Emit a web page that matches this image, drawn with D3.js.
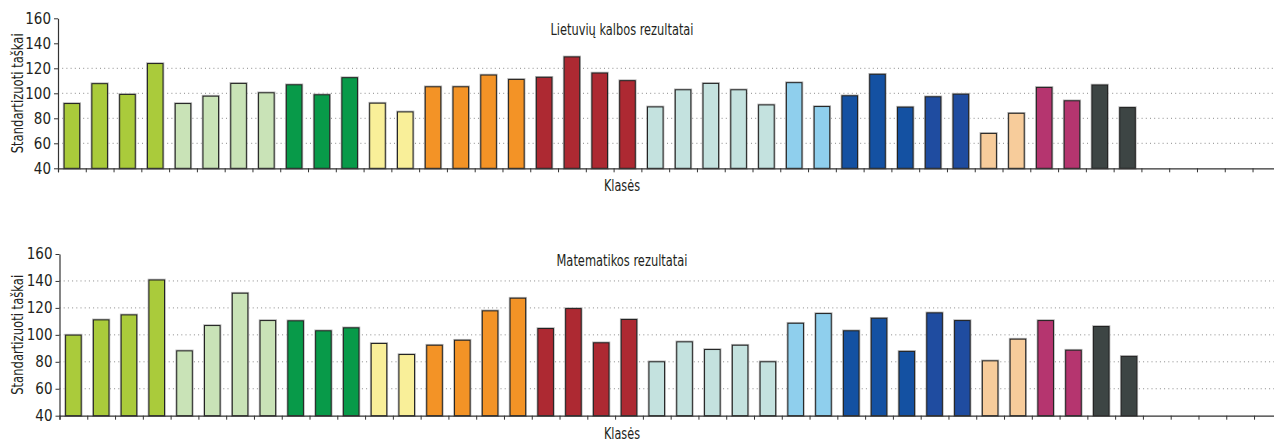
<!DOCTYPE html>
<html>
<head>
<meta charset="utf-8">
<script src="https://cdn.jsdelivr.net/npm/d3@7"></script>
<style>
  body { margin: 0; background: #fff; }
  svg text { font-family: "Liberation Sans Narrow", "DejaVu Sans Condensed", "Roboto", sans-serif; fill: #231f20; }
</style>
</head>
<body>
<div id="chart"></div>
<script>
// klasės (44 vietos ašyje, užpildytos 39)
const classes = d3.range(1, 45).map(String);

// kiekvienos klasės grupė (spalvai)
const groups = [
  "A","A","A","A", "B","B","B","B", "C","C","C", "D","D",
  "E","E","E","E", "F","F","F","F", "G","G","G","G","G",
  "H","H", "I","I","I","J","J", "K","K", "L","L", "M","M"
];

const lithuanian = [
  91.8, 107.7, 99.1, 123.8, 91.8, 97.7, 107.9, 100.4, 106.8, 98.8, 112.5, 92.1, 85.1,
  105.2, 105.2, 114.6, 111.1, 112.8, 129.1, 116.2, 110.1,
  89.1, 102.8, 107.9, 102.8, 90.7, 108.5, 89.4,
  98.0, 115.2, 88.9, 97.2, 99.3, 67.9, 84.0, 104.7, 94.0, 106.6, 88.6
];

const maths = [
  99.8, 111.1, 114.8, 140.7, 88.1, 106.9, 130.9, 110.6, 110.4, 103.0, 105.2, 93.6, 85.4,
  92.3, 96.0, 117.8, 127.2, 104.7, 119.5, 94.1, 111.4,
  80.0, 94.8, 89.1, 92.3, 80.0, 108.6, 115.8,
  103.0, 112.3, 87.7, 116.3, 110.6, 80.7, 96.8, 110.6, 88.6, 106.2, 84.0
];

const yTicks = [40, 60, 80, 100, 120, 140, 160];
const gridTop = [60, 80, 100, 120];
const gridBottom = [60, 80, 100, 120, 140];

const colour = d3.scaleOrdinal()
  .domain(["A","B","C","D","E","F","G","H","I","J","K","L","M"])
  .range(["#aacb3b","#c9e3b7","#089a49","#f9ef99","#f39326","#ad2932",
          "#c4e2df","#8fcfed","#1451a2","#1f4ca0","#f7cc9b","#b5356f","#3d4544"]);

const svg = d3.select("#chart")
  .append("svg")
  .attr("width", 1274)
  .attr("height", 442);

function panel(values, grid, title, opt) {
  const x = d3.scaleBand()
    .domain(classes)
    .range([opt.left, opt.left + 44 * 27.78])
    .paddingInner(0.44)
    .paddingOuter(0.22);

  const y = d3.scaleLinear()
    .domain([40, 160])
    .range([opt.bottom, opt.top]);

  const g = svg.append("g");

  // tinklelis
  g.selectAll(".grid")
    .data(grid)
    .join("line")
    .attr("x1", opt.left)
    .attr("x2", 1274)
    .attr("y1", d => y(d))
    .attr("y2", d => y(d))
    .attr("stroke", "#8a8a8a")
    .attr("stroke-width", 1)
    .attr("stroke-dasharray", "1,3.2");

  const data = values.map((v, i) => ({ c: classes[i], v: v, grp: groups[i] }));

  // šešėlis aplink stulpelius
  g.selectAll(".halo")
    .data(data)
    .join("rect")
    .attr("x", d => x(d.c))
    .attr("y", d => y(d.v))
    .attr("width", x.bandwidth())
    .attr("height", d => y(40) - y(d.v))
    .attr("fill", "none")
    .attr("stroke", "#b5b5b5")
    .attr("stroke-width", 2.6);

  g.selectAll(".bar")
    .data(data)
    .join("rect")
    .attr("x", d => x(d.c))
    .attr("y", d => y(d.v))
    .attr("width", x.bandwidth())
    .attr("height", d => y(40) - y(d.v))
    .attr("fill", d => colour(d.grp))
    .attr("stroke", "#222")
    .attr("stroke-width", 1);

  // x ašis (padalos tarp klasių)
  const xb = d3.scaleLinear().domain([0, 44]).range(x.range());
  g.append("g")
    .attr("transform", `translate(0,${opt.bottom})`)
    .call(d3.axisBottom(xb).tickValues(d3.range(0, 45)).tickSize(4).tickFormat(""))
    .call(a => a.select(".domain").attr("stroke", "#333").attr("stroke-width", 1.2))
    .call(a => a.selectAll(".tick line").attr("stroke", "#333"));

  // y ašis
  g.append("g")
    .attr("transform", `translate(${opt.left},0)`)
    .call(d3.axisLeft(y).tickValues(yTicks).tickSize(4).tickSizeOuter(0).tickPadding(3))
    .call(a => a.select(".domain").attr("stroke", "#333").attr("stroke-width", 1.2))
    .call(a => a.selectAll(".tick line").attr("stroke", "#333"))
    .call(a => a.selectAll(".tick text").attr("font-size", 15).style("fill", "#231f20"));

  g.append("text")
    .attr("x", 622)
    .attr("y", opt.titleY)
    .attr("text-anchor", "middle")
    .attr("font-size", 15)
    .attr("textLength", opt.titleW)
    .attr("lengthAdjust", "spacingAndGlyphs")
    .text(title);

  g.append("text")
    .attr("x", 622)
    .attr("y", opt.bottom + 23)
    .attr("text-anchor", "middle")
    .attr("font-size", 15)
    .attr("textLength", 36)
    .attr("lengthAdjust", "spacingAndGlyphs")
    .text("Klasės");

  g.append("text")
    .attr("transform", `translate(23,${(opt.top + opt.bottom) / 2}) rotate(-90)`)
    .attr("text-anchor", "middle")
    .attr("font-size", 15)
    .attr("textLength", 120)
    .attr("lengthAdjust", "spacingAndGlyphs")
    .text("Standartizuoti taškai");
}

panel(lithuanian, gridTop, "Lietuvių kalbos rezultatai", { left: 58, top: 18.3, bottom: 168.3, titleY: 35, titleW: 143 });
panel(maths, gridBottom, "Matematikos rezultatai", { left: 59.5, top: 254, bottom: 415.7, titleY: 266, titleW: 131 });
</script>
</body>
</html>
